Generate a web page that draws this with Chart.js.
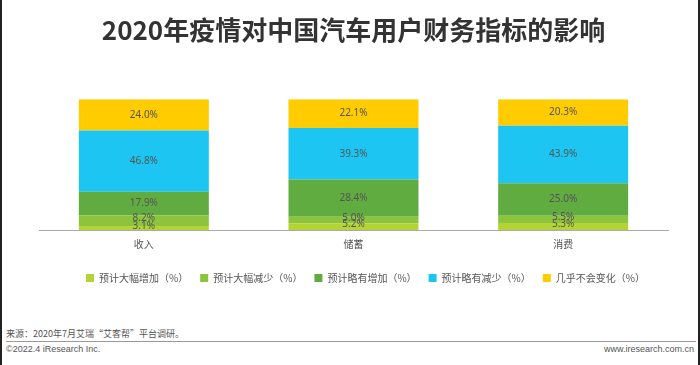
<!DOCTYPE html>
<html>
<head>
<meta charset="utf-8">
<script src="https://cdn.jsdelivr.net/npm/chart.js@4"></script>
<style>
  html, body { margin: 0; padding: 0; background: #fff; }
  .page {
    position: relative; width: 700px; height: 365px; box-sizing: border-box;
    border-left: 2px solid #222; border-right: 2px solid #222; overflow: hidden;
    font-family: "Noto Sans CJK SC", "Noto Sans", sans-serif;
  }
  .chart-box { position: absolute; left: -2px; top: 0; width: 700px; height: 300px; }
  .source { position: absolute; left: 4px; top: 327px; font-size: 9px; color: #555; }
  .rule { position: absolute; left: 4px; right: 2px; top: 341px; border-top: 1px solid #999; }
  .foot-l { position: absolute; left: 4px; top: 344px; font-size: 9px; color: #555; font-family: "Liberation Sans Narrow", "Liberation Sans", sans-serif; }
  .foot-r { position: absolute; right: 4px; top: 344px; font-size: 9px; color: #555; font-family: "Liberation Sans Narrow", "Liberation Sans", sans-serif; }
</style>
</head>
<body>
<div class="page">
  <div class="chart-box"><canvas id="chart"></canvas></div>
  <div class="source">来源：2020年7月艾瑞“艾客帮”平台调研。</div>
  <div class="rule"></div>
  <div class="foot-l">©2022.4 iResearch Inc.</div>
  <div class="foot-r">www.iresearch.com.cn</div>
</div>
<script>
// categories and series (percent, bottom to top)
const categories = ['收入', '储蓄', '消费'];
const seriesNames = ['预计大幅增加（%）', '预计大幅减少（%）', '预计略有增加（%）', '预计略有减少（%）', '几乎不会变化（%）'];
const bigUp = [3.1, 5.2, 5.3];
const bigDown = [8.2, 5.0, 5.5];
const smallUp = [17.9, 28.4, 25.0];
const smallDown = [46.8, 39.3, 43.9];
const noChange = [24.0, 22.1, 20.3];
const colors = ['#B4D334', '#8CC43E', '#61AC41', '#1DC6F2', '#FFCC00'];

const allSeries = [bigUp, bigDown, smallUp, smallDown, noChange];

// draws the value inside each segment
const segmentLabels = {
  id: 'segmentLabels',
  afterDatasetsDraw(chart) {
    const ctx = chart.ctx;
    ctx.save();
    ctx.font = '10px "Noto Sans", "Noto Sans CJK SC", sans-serif';
    ctx.fillStyle = '#555';
    ctx.textAlign = 'center';
    ctx.textBaseline = 'middle';
    chart.data.datasets.forEach((ds, i) => {
      chart.getDatasetMeta(i).data.forEach((bar, j) => {
        const y = (bar.y + bar.base) / 2;
        const shift = ds.data[j] < 10 ? -2 : 0;
        ctx.fillText(ds.data[j].toFixed(1) + '%', bar.x, y + shift);
      });
    });
    ctx.restore();
  }
};

// nudge the legend row a little to the right, like the original
const legendShift = {
  id: 'legendShift',
  afterLayout(chart) {
    chart.legend.left += 12;
    chart.legend.right += 12;
  }
};

new Chart(document.getElementById('chart'), {
  type: 'bar',
  data: {
    labels: categories,
    datasets: allSeries.map((vals, i) => ({
      label: seriesNames[i],
      data: vals,
      backgroundColor: colors[i],
      borderWidth: 0,
      categoryPercentage: 0.62,
      barPercentage: 1.0
    }))
  },
  options: {
    responsive: true,
    maintainAspectRatio: false,
    animation: false,
    layout: { padding: { left: 39, right: 32, top: 0, bottom: 7 } },
    scales: {
      x: {
        stacked: true,
        grid: { display: false },
        border: { display: true, color: '#aaa', width: 1 },
        ticks: { color: '#555', font: { size: 10, family: '"Noto Sans CJK SC"' }, padding: 0 },
        afterFit(scale) { scale.height += 11; }
      },
      y: {
        stacked: true,
        display: false,
        min: 0,
        max: 100
      }
    },
    plugins: {
      title: {
        display: true,
        text: '2020年疫情对中国汽车用户财务指标的影响',
        color: '#333',
        font: { size: 26, weight: 'bold', family: '"Noto Sans CJK SC"' },
        padding: { top: 15, bottom: 53 }
      },
      legend: {
        position: 'bottom',
        labels: {
          boxWidth: 8,
          boxHeight: 8,
          color: '#555',
          font: { size: 10, family: '"Noto Sans CJK SC"' },
          padding: 12
        }
      },
      tooltip: { enabled: false }
    }
  },
  plugins: [segmentLabels, legendShift]
});
</script>
</body>
</html>
